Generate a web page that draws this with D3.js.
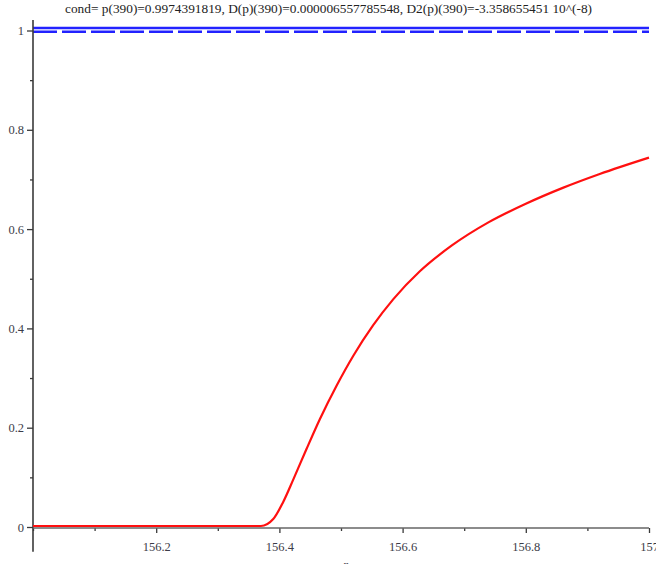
<!DOCTYPE html>
<html>
<head>
<meta charset="utf-8">
<script src="https://cdn.jsdelivr.net/npm/d3@7"></script>
<style>
  html, body { margin: 0; padding: 0; background: #fff; }
  svg { display: block; }
  text { font-family: "Liberation Serif", "DejaVu Serif", serif; }
</style>
</head>
<body>
<svg id="chart" width="656" height="564"></svg>
<script>
// ---- data ----
const titleText = "cond= p(390)=0.9974391819, D(p)(390)=0.000006557785548, D2(p)(390)=-3.358655451 10^(-8)";
const xLabel = "r";
const curveR = [156.0, 156.2, 156.37, 156.39, 156.406, 156.423, 156.444, 156.466, 156.493, 156.52, 156.552, 156.585, 156.628, 156.68, 156.74, 156.8, 156.86, 156.92, 157.0];
const curveP = [0, 0, 0, 0.014, 0.048, 0.095, 0.155, 0.216, 0.283, 0.343, 0.404, 0.457, 0.513, 0.565, 0.612, 0.649, 0.681, 0.709, 0.742];
const upperLevel = 1.005;     // solid blue line
const condLevel = 0.9974;     // dashed blue line
const xMajorTicks = [156.2, 156.4, 156.6, 156.8, 157];
const xMinorTicks = [156.0, 156.1, 156.3, 156.5, 156.7, 156.9];
const xTickLabels = ["156.2", "156.4", "156.6", "156.8", "157"];
const yMajorTicks = [0, 0.2, 0.4, 0.6, 0.8, 1];
const yMinorTicks = [0.1, 0.3, 0.5, 0.7, 0.9];
const yTickLabels = ["0", "0.2", "0.4", "0.6", "0.8", "1"];

// ---- layout ----
const svg = d3.select("#chart");
const x = d3.scaleLinear().domain([156, 157]).range([33, 649]);
const y = d3.scaleLinear().domain([0, 1]).range([527, 30.5]);
const axisColor = "#3a3a3a";
const labelColor = "#3c3c48";

// title
svg.append("text")
  .attr("x", 65).attr("y", 13)
  .attr("text-anchor", "start")
  .attr("font-size", 13)
  .attr("textLength", 527)
  .attr("lengthAdjust", "spacingAndGlyphs")
  .attr("fill", "#222")
  .text(titleText);

// blue lines
const gLines = svg.append("g");
gLines.append("line")
  .attr("x1", x(156)).attr("x2", x(157))
  .attr("y1", y(upperLevel)).attr("y2", y(upperLevel))
  .attr("stroke", "#2222ff").attr("stroke-width", 2.6);
gLines.append("line")
  .attr("x1", x(156)).attr("x2", x(157))
  .attr("y1", y(condLevel)).attr("y2", y(condLevel))
  .attr("stroke", "#2222ff").attr("stroke-width", 2.6)
  .attr("stroke-dasharray", "24 5");

// axes
const yAxisMajor = d3.axisLeft(y).tickValues(yMajorTicks).tickSize(6)
  .tickFormat((d, i) => yTickLabels[i]).tickPadding(3);
const yAxisMinor = d3.axisLeft(y).tickValues(yMinorTicks).tickSize(3).tickFormat("");
const xAxisMajor = d3.axisBottom(x).tickValues(xMajorTicks).tickSize(5)
  .tickFormat((d, i) => xTickLabels[i]).tickPadding(9);
const xAxisMinor = d3.axisBottom(x).tickValues(xMinorTicks).tickSize(3).tickFormat("");

function styleAxis(g) {
  g.select(".domain").remove();
  g.selectAll(".tick line").attr("stroke", axisColor).attr("stroke-width", 1.3);
  g.selectAll(".tick text")
    .attr("font-family", "Liberation Serif, serif")
    .attr("font-size", 12.5)
    .attr("fill", labelColor);
}

const axisY = 528;
svg.append("g").attr("transform", `translate(${x(156)},0)`).call(yAxisMajor).call(styleAxis);
svg.append("g").attr("transform", `translate(${x(156)},0)`).call(yAxisMinor).call(styleAxis);
svg.append("g").attr("transform", `translate(0,${axisY})`).call(xAxisMajor).call(styleAxis);
svg.append("g").attr("transform", `translate(0,${axisY})`).call(xAxisMinor).call(styleAxis);

// axis lines
svg.append("line")
  .attr("x1", x(156)).attr("x2", x(156))
  .attr("y1", y(1.021)).attr("y2", y(-0.05))
  .attr("stroke", axisColor).attr("stroke-width", 1.6);
svg.append("line")
  .attr("x1", x(156)).attr("x2", x(157))
  .attr("y1", axisY).attr("y2", axisY)
  .attr("stroke", "#666").attr("stroke-width", 1.6);

// red curve
const pts = curveR.map((r, i) => [r, curveP[i]]);
const line = d3.line().x(d => x(d[0])).y(d => y(d[1]) - 1).curve(d3.curveMonotoneX);
svg.append("path")
  .datum(pts)
  .attr("d", line)
  .attr("fill", "none")
  .attr("stroke", "#ff1010")
  .attr("stroke-width", 2.2);

// x label
svg.append("text")
  .attr("x", 343).attr("y", 569)
  .attr("font-size", 13)
  .attr("font-style", "italic")
  .attr("fill", labelColor)
  .text(xLabel);
</script>
</body>
</html>
